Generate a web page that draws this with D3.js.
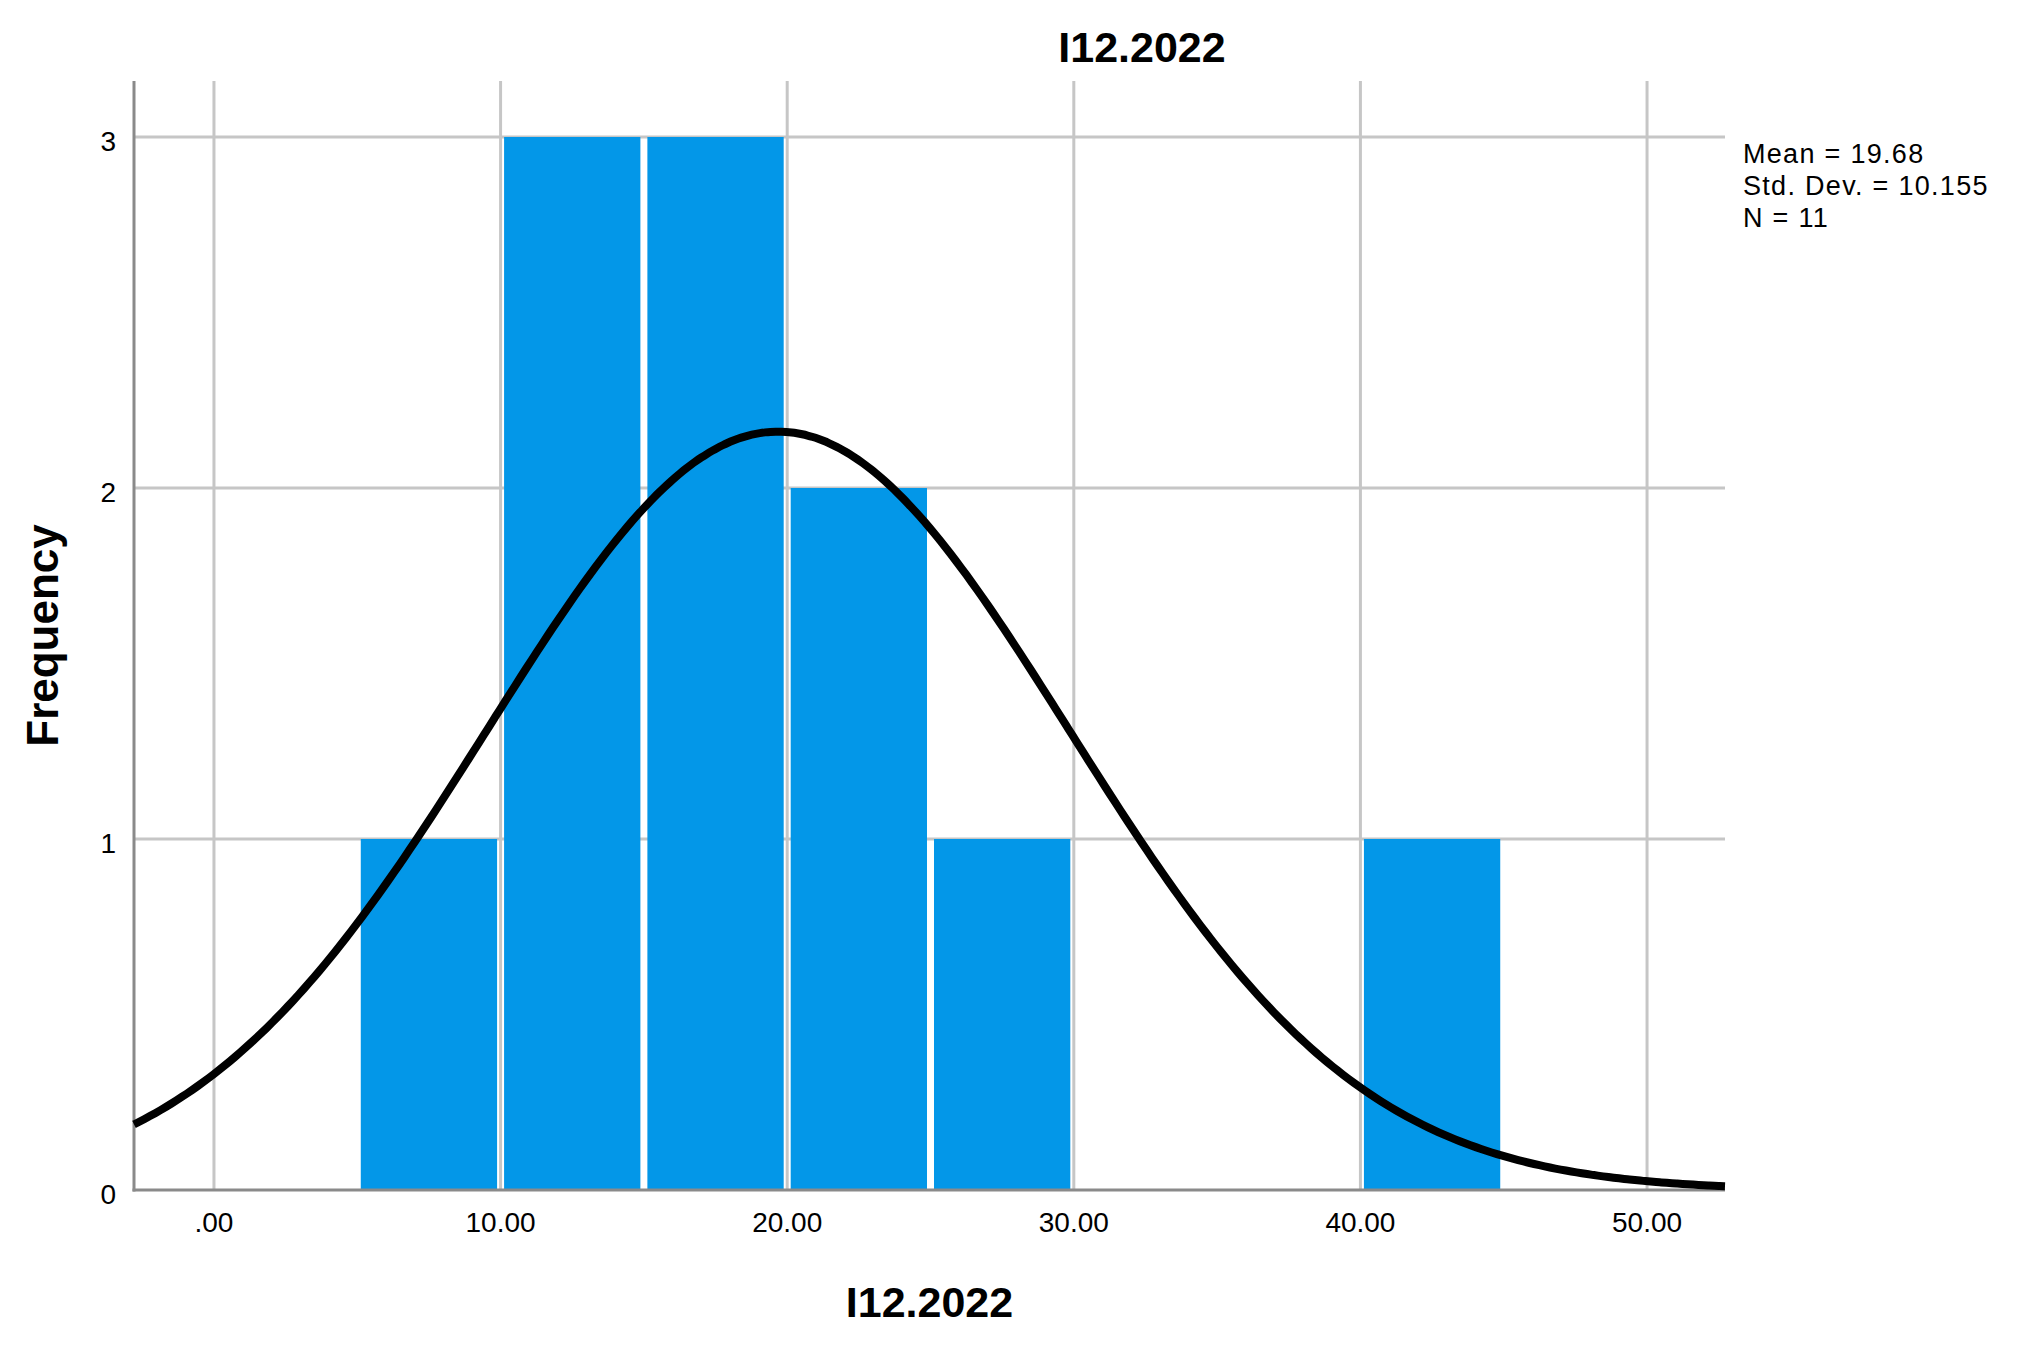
<!DOCTYPE html>
<html>
<head>
<meta charset="utf-8">
<script src="https://cdn.jsdelivr.net/npm/d3@7"></script>
<style>
  html, body { margin: 0; padding: 0; background: #fff; }
  svg { display: block; }
  text { font-family: "Liberation Sans", Arial, sans-serif; fill: #000; }
</style>
</head>
<body>
<svg id="chart" width="2018" height="1348"></svg>
<script>
// ---- data ----
const chartTitle = "I12.2022";
const xTitle = "I12.2022";
const yTitle = "Frequency";
const binLower = [5, 10, 15, 20, 25, 30, 35, 40];
const binWidth = 5;
const counts = [1, 3, 3, 2, 1, 0, 0, 1];
const xTickValues = [0, 10, 20, 30, 40, 50];
const xTickLabels = [".00", "10.00", "20.00", "30.00", "40.00", "50.00"];
const yTickValues = [0, 1, 2, 3];
const yTickLabels = ["0", "1", "2", "3"];
const mean = 19.68;
const stdDev = 10.155;
const nObs = 11;
const statsLines = ["Mean = 19.68", "Std. Dev. = 10.155", "N = 11"];

// ---- layout ----
const plot = { left: 134, right: 1725, top: 81, bottom: 1190 };
const svg = d3.select("#chart");

const x = d3.scaleLinear().domain([-2.79, 52.72]).range([plot.left, plot.right]);
const y = d3.scaleLinear().domain([0, 3]).range([plot.bottom, 137]);

const gridColor = "#c6c6c6";

// vertical gridlines
svg.append("g").selectAll("line").data(xTickValues).join("line")
  .attr("x1", d => x(d)).attr("x2", d => x(d))
  .attr("y1", plot.top).attr("y2", plot.bottom)
  .attr("stroke", gridColor).attr("stroke-width", 3);

// horizontal gridlines
svg.append("g").selectAll("line").data(yTickValues.filter(v => v > 0)).join("line")
  .attr("x1", plot.left).attr("x2", plot.right)
  .attr("y1", d => y(d)).attr("y2", d => y(d))
  .attr("stroke", gridColor).attr("stroke-width", 3);

// bars
const bins = binLower.map((lo, i) => ({ lo, hi: lo + binWidth, c: counts[i] })).filter(b => b.c > 0);
svg.append("g").selectAll("rect").data(bins).join("rect")
  .attr("x", d => x(d.lo) + 3.5)
  .attr("width", d => x(d.hi) - x(d.lo) - 7)
  .attr("y", d => y(d.c))
  .attr("height", d => y(0) - y(d.c))
  .attr("fill", "#0397e8");

// axis lines
svg.append("line")
  .attr("x1", plot.left).attr("x2", plot.left)
  .attr("y1", plot.top).attr("y2", plot.bottom + 1.5)
  .attr("stroke", "#8a8a8a").attr("stroke-width", 3);
svg.append("line")
  .attr("x1", plot.left - 1.5).attr("x2", plot.right)
  .attr("y1", plot.bottom).attr("y2", plot.bottom)
  .attr("stroke", "#8a8a8a").attr("stroke-width", 3);

// normal curve (fitted from the stated mean, sd and N)
const peak = nObs * binWidth / (stdDev * Math.sqrt(2 * Math.PI));
const [d0, d1] = x.domain();
const curvePts = d3.range(0, 301).map(i => {
  const v = d0 + (d1 - d0) * i / 300;
  const z = (v - mean) / stdDev;
  return [v, peak * Math.exp(-0.5 * z * z)];
});
svg.append("path")
  .datum(curvePts)
  .attr("d", d3.line().x(d => x(d[0])).y(d => y(d[1])).curve(d3.curveBasis))
  .attr("fill", "none").attr("stroke", "#000").attr("stroke-width", 8)
  .attr("stroke-linecap", "butt");

// x tick labels
svg.append("g").selectAll("text").data(xTickValues).join("text")
  .attr("x", d => x(d)).attr("y", plot.bottom + 42)
  .attr("text-anchor", "middle").attr("font-size", 28)
  .text((d, i) => xTickLabels[i]);

// y tick labels
svg.append("g").selectAll("text").data(yTickValues).join("text")
  .attr("x", 116).attr("y", d => y(d) + 14)
  .attr("text-anchor", "end").attr("font-size", 28)
  .text((d, i) => yTickLabels[i]);

// titles
svg.append("text").attr("x", 1142).attr("y", 62)
  .attr("text-anchor", "middle").attr("font-size", 43).attr("font-weight", "bold")
  .text(chartTitle);
svg.append("text").attr("x", (plot.left + plot.right) / 2).attr("y", 1317)
  .attr("text-anchor", "middle").attr("font-size", 43).attr("font-weight", "bold")
  .text(xTitle);
svg.append("text")
  .attr("transform", `translate(58,${(plot.top + plot.bottom) / 2}) rotate(-90)`)
  .attr("text-anchor", "middle").attr("font-size", 44).attr("font-weight", "bold")
  .text(yTitle);

// stats legend
svg.append("g").selectAll("text").data(statsLines).join("text")
  .attr("x", 1743).attr("y", (d, i) => 163 + i * 32)
  .attr("font-size", 27).attr("letter-spacing", "1.3px")
  .text(d => d);
</script>
</body>
</html>
